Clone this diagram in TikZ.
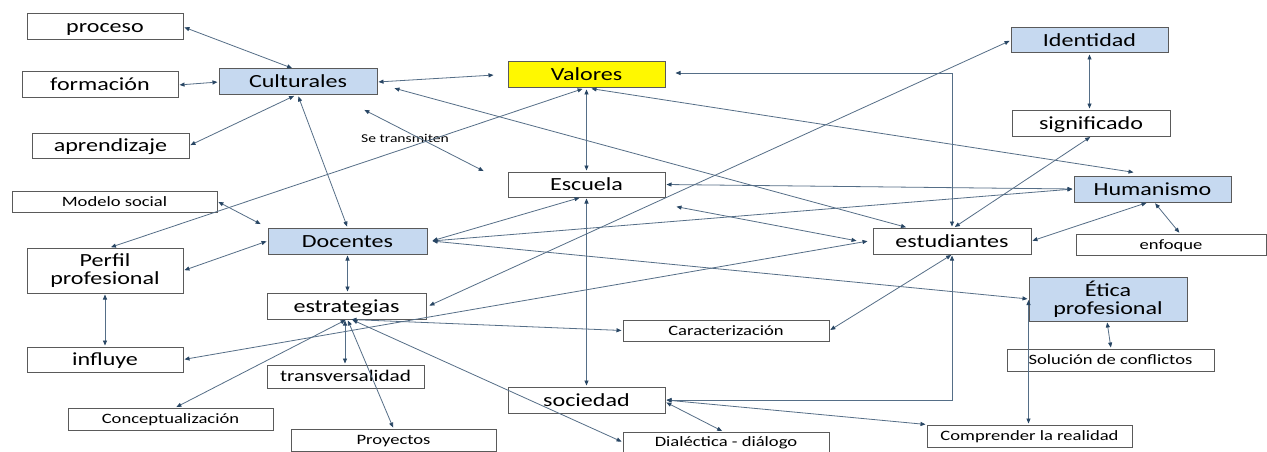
\documentclass[tikz,border=0pt]{standalone}
\usepackage{fontspec}
\setmainfont{Carlito}[FakeStretch=1.3]
\usetikzlibrary{arrows.meta,calc}
\definecolor{boxline}{RGB}{90,90,90}
\definecolor{bluefill}{RGB}{198,217,240}
\definecolor{yel}{RGB}{255,248,0}
\definecolor{conn}{RGB}{85,110,135}
\definecolor{tipc}{RGB}{40,70,100}
\begin{document}
\begin{tikzpicture}[x=1pt,y=-1pt,
 box/.style={draw=boxline,line width=1pt,fill=white,inner sep=0pt,text=black},
 bigtxt/.style={font=\fontsize{18.5}{18}\selectfont,text height=12pt,text depth=0pt},
 midtxt/.style={font=\fontsize{16.3}{17}\selectfont,text height=10.5pt,text depth=0pt},
 smalltxt/.style={font=\fontsize{14.3}{15}\selectfont,text height=9.2pt,text depth=0pt},
 twoline/.style={font=\fontsize{18.5}{18}\selectfont,align=center},
 bluebox/.style={fill=bluefill},
 link/.style={draw=conn,line width=0.8pt,{Triangle[length=5pt,width=4pt,color=tipc]}-{Triangle[length=5pt,width=4pt,color=tipc]},shorten >=1pt,shorten <=1pt},
]
\fill[white] (0,0) rectangle (1267,452);
\useasboundingbox (0,0) rectangle (1267,452);

% nodes
\node[box,bigtxt,minimum width=156pt,minimum height=26pt] (proceso) at (105,27) {proceso};
\node[box,bigtxt,minimum width=156pt,minimum height=26pt] (formacion) at (100,85) {formación};
\node[box,bigtxt,bluebox,minimum width=158pt,minimum height=26pt] (Culturales) at (298,82) {Culturales};
\node[box,bigtxt,minimum width=157pt,minimum height=25pt] (aprendizaje) at (110.5,145.5) {aprendizaje};
\node[box,smalltxt,minimum width=205pt,minimum height=21pt] (modelo) at (114.5,201.5) {Modelo social};
\node[box,twoline,minimum width=156pt,minimum height=45pt] (perfil) at (105,270.5) {Perfil\\profesional};
\node[box,bigtxt,minimum width=156pt,minimum height=25pt] (influye) at (105,359.5) {influye};
\node[box,bigtxt,bluebox,minimum width=159pt,minimum height=26pt] (Docentes) at (347.5,241) {Docentes};
\node[box,bigtxt,minimum width=159pt,minimum height=26pt] (estrategias) at (346.5,306) {estrategias};
\node[box,midtxt,minimum width=157pt,minimum height=23pt] (transv) at (345.5,376.5) {transversalidad};
\node[box,smalltxt,minimum width=205pt,minimum height=22pt] (concept) at (170.5,419) {Conceptualización};
\node[box,smalltxt,minimum width=205pt,minimum height=22pt] (proyectos) at (393.5,440) {Proyectos};
\node[box,bigtxt,fill=yel,minimum width=157pt,minimum height=26pt] (Valores) at (586.5,75) {Valores};
\node[box,bigtxt,minimum width=157pt,minimum height=25pt] (Escuela) at (586.5,184.5) {Escuela};
\node[box,bigtxt,minimum width=157pt,minimum height=26pt] (sociedad) at (586.5,400) {sociedad};
\node[box,smalltxt,minimum width=206pt,minimum height=21pt] (caract) at (726,330.5) {Caracterización};
\node[box,smalltxt,minimum width=206pt,minimum height=20pt] (dialectica) at (726,442) {Dialéctica - diálogo};
\node[box,bigtxt,bluebox,minimum width=157pt,minimum height=25pt] (Identidad) at (1089.5,40.5) {Identidad};
\node[box,bigtxt,minimum width=158pt,minimum height=26pt] (significado) at (1091,123) {significado};
\node[box,bigtxt,bluebox,minimum width=157pt,minimum height=26pt] (Humanismo) at (1152.5,189) {Humanismo};
\node[box,bigtxt,minimum width=158pt,minimum height=26pt] (estudiantes) at (952,241) {estudiantes};
\node[box,smalltxt,minimum width=190pt,minimum height=21pt] (enfoque) at (1171,244.5) {enfoque};
\node[box,twoline,bluebox,minimum width=158pt,minimum height=44pt] (Etica) at (1108,299) {Ética\\profesional};
\node[box,smalltxt,minimum width=207pt,minimum height=22pt] (solucion) at (1110.5,360) {Solución de conflictos};
\node[box,smalltxt,minimum width=205pt,minimum height=22pt] (comprender) at (1029.5,436) {Comprender la realidad};
\node[font=\fontsize{12}{13}\selectfont,inner sep=0pt] (setrans) at (405,138) {Se transmiten};

% connectors
\draw[link] (proceso.east) -- ([xshift=-5pt]Culturales.north);
\draw[link] (formacion.east) -- (Culturales.west);
\draw[link] (aprendizaje.east) -- ([xshift=-3pt]Culturales.south);
\draw[link] (Culturales.east) -- ([xshift=-13pt]Valores.west);
\draw[link] ([xshift=16pt,yshift=-6pt]Culturales.east) -- ([xshift=-45pt]estudiantes.north);
\draw[link] (Culturales.south) -- (Docentes.north);
\draw[link] ([xshift=-14pt,yshift=-14pt]Culturales.south east) -- ([xshift=-23pt]Escuela.north west);
\draw[link] (Valores.south) -- (Escuela.north);
\draw[link] ([xshift=-3pt]Valores.south) -- ([xshift=5pt]perfil.north);
\draw[link] ([xshift=4pt]Valores.south) -- ([xshift=-18pt,yshift=3pt]Humanismo.north);
\draw[link] ([xshift=9pt,yshift=2pt]Valores.east) -| (estudiantes.north);
\draw[link] (Escuela.south) -- (sociedad.north);
\draw[link] (Escuela.east) -- (Humanismo.west);
\draw[link] ([xshift=4pt]Docentes.east) -- (Humanismo.west);
\draw[link] ([xshift=4pt]Docentes.east) -- ([xshift=-6pt]Escuela.south);
\draw[link] ([xshift=4pt]Docentes.east) -- (Etica.west);
\draw[link] (modelo.east) -- ([xshift=-6pt,yshift=3pt]Docentes.north west);
\draw[link] (perfil.east) -- (Docentes.west);
\draw[link] (Docentes.south) -- (Docentes.south |- estrategias.north);
\draw[link] (perfil.south) -- (influye.north);
\draw[link] (Identidad.west) -- ([xshift=2pt]estrategias.east);
\draw[link] (Identidad.south) -- (Identidad.south |- significado.north);
\draw[link] (significado.south) -- ([xshift=2pt]estudiantes.north);
\draw[link] ([xshift=-5pt]Humanismo.south) -- (estudiantes.east);
\draw[link] ([xshift=2pt]Humanismo.south) -- ([xshift=9pt]enfoque.north);
\draw[link] ([xshift=10pt,yshift=-9pt]Escuela.south east) -- ([xshift=-15pt]estudiantes.west);
\draw[link] (influye.east) -- ([xshift=-4pt]estudiantes.west);
\draw[link] ([xshift=4pt]estrategias.south) -- (caract.west);
\draw[link] (estudiantes.south) -- (caract.east);
\draw[link] ([xshift=-1.5pt]estrategias.south) -- ([xshift=-1.5pt]estrategias.south |- transv.north);
\draw[link] (estrategias.south) -- ([xshift=5pt]concept.north);
\draw[link] ([xshift=1pt]estrategias.south) -- (proyectos.north);
\draw[link] ([xshift=5pt]estrategias.south) -- (dialectica.west);
\draw[link] ([yshift=-2pt]sociedad.east) -- ([xshift=-3pt]dialectica.north);
\draw[link] (sociedad.east) -- (comprender.north west);
\draw[link] (sociedad.east) -| (estudiantes.south);
\draw[link] (Etica.west) -- (Etica.west |- comprender.north);
\draw[link] ([xshift=-1pt]Etica.south) -- ([xshift=0.5pt]solucion.north);
\end{tikzpicture}
\end{document}
